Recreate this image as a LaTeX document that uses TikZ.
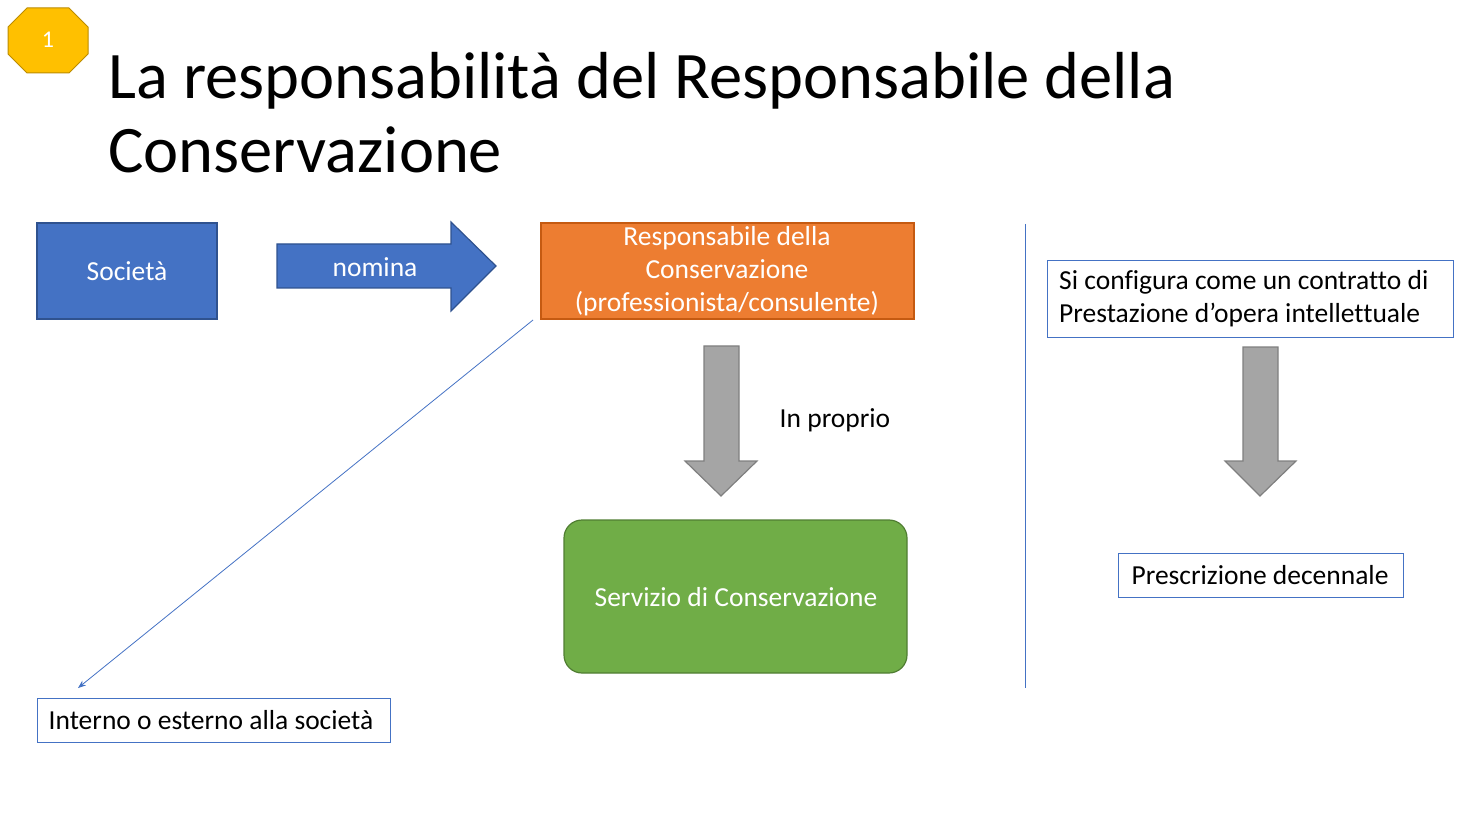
\documentclass[tikz,border=0pt]{standalone}
\usepackage{fontspec}
\setmainfont[RawFeature=-liga]{Carlito}
\usetikzlibrary{arrows.meta}
\definecolor{cblue}{HTML}{4472C4}
\definecolor{cblueD}{HTML}{2F528F}
\definecolor{corange}{HTML}{ED7D31}
\definecolor{corangeD}{HTML}{C55A11}
\definecolor{cgreen}{HTML}{70AD47}
\definecolor{cgreenD}{HTML}{507E32}
\definecolor{cgray}{HTML}{A5A5A5}
\definecolor{cgrayD}{HTML}{7F7F7F}
\definecolor{cyel}{HTML}{FFC000}
\definecolor{cyelD}{HTML}{BC8C00}
\tikzset{
  lbl/.style={font=\fontsize{27.5}{33}\selectfont, inner sep=0pt},
  wlbl/.style={lbl, text=white},
  outbox/.style={draw=cblue, line width=1pt},
  grayarrow/.style={fill=cgray, draw=cgrayD, line width=1.2pt},
}
\begin{document}
\begin{tikzpicture}[x=1pt,y=-1pt]
\useasboundingbox (0,0) rectangle (1470,818);
% badge
\draw[fill=cyel, draw=cyelD, line width=1pt] (27,8) -- (69,8) -- (88,27) -- (88,54) -- (69,73) -- (27,73) -- (8,54) -- (8,27) -- cycle;
\node[wlbl, font=\fontsize{24}{28}\selectfont] (badge) at (48,40) {1};
% title
\node[anchor=west, font=\fontsize{66.5}{74}\selectfont, align=left, inner sep=0pt] (title) at (108,113) {La responsabilità del Responsabile della\\Conservazione};
% Società
\draw[fill=cblue, draw=cblueD, line width=1.2pt] (37,223) rectangle (217,319);
\node[wlbl] (soc) at (127,271) {Società};
% nomina arrow
\draw[fill=cblue, draw=cblueD, line width=1.2pt] (277,244) -- (451,244) -- (451,222) -- (496,266) -- (451,311) -- (451,288) -- (277,288) -- cycle;
\node[wlbl] (nom) at (375,267) {nomina};
% orange
\draw[fill=corange, draw=corangeD, line width=1.2pt] (541,223) rectangle (914,319);
\node[wlbl, align=center] (resp) at (727,271) {Responsabile della\\Conservazione\\(professionista/consulente)};
% down arrow 1
\draw[grayarrow] (704,346) -- (739,346) -- (739,461) -- (757,461) -- (721,496) -- (685,461) -- (704,461) -- cycle;
\node[lbl] (prop) at (835,420) {In proprio};
% green
\draw[fill=cgreen, draw=cgreenD, line width=1.2pt, rounded corners=18pt] (564,520) rectangle (907,673);
\node[wlbl] (serv) at (736,597) {Servizio di Conservazione};
% interno
\draw[outbox] (37,698) rectangle (390,742);
\node[lbl] (int) at (211,720) {Interno o esterno alla società};
\coordinate (ls) at (533,320);
\coordinate (le) at (78,688);
\draw[cblue, line width=0.8pt, -{Stealth[length=8pt,width=6pt]}] (ls) -- (le);
% separator
\draw[cblue, line width=0.8pt] (1025,224) -- (1025,688);
% right side
\draw[outbox] (1047,261) rectangle (1453,338);
\node[lbl, anchor=west, align=left] (cfg) at (1059,299) {Si configura come un contratto di\\Prestazione d’opera intellettuale};
\draw[grayarrow] (1243,347) -- (1278,347) -- (1278,461) -- (1296,461) -- (1260,496) -- (1225,461) -- (1243,461) -- cycle;
\draw[outbox] (1118,553) rectangle (1403,597);
\node[lbl] (pre) at (1260,575) {Prescrizione decennale};
\end{tikzpicture}
\end{document}
